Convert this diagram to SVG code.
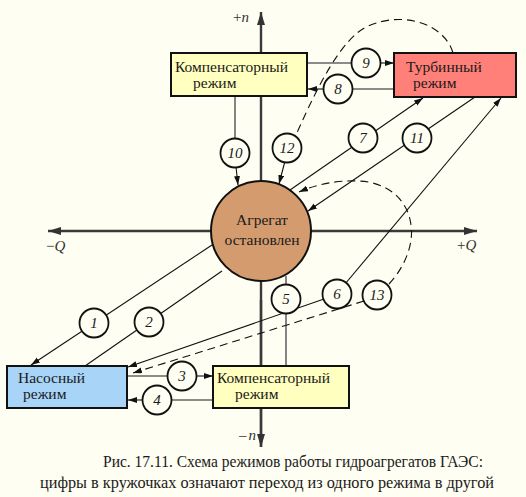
<svg xmlns="http://www.w3.org/2000/svg" width="526" height="497" viewBox="0 0 526 497">
<defs>
<marker id="ah" markerUnits="userSpaceOnUse" markerWidth="10" markerHeight="8" refX="9" refY="3" orient="auto">
<path d="M0,0 L9,3 L0,6 z" fill="#111"/>
</marker>
<marker id="axh" markerUnits="userSpaceOnUse" markerWidth="14" markerHeight="10" refX="13" refY="4" orient="auto">
<path d="M0,0 L13,4 L0,8 z" fill="#333"/>
</marker>
<style>
.ax{stroke:#3a3a3a;stroke-width:2.4;fill:none}
.c{stroke:#111;stroke-width:1.1;fill:none}
.g{stroke:#666;stroke-width:1.6;fill:none}
.d{stroke:#111;stroke-width:1.1;fill:none;stroke-dasharray:8 5}
.box{stroke:#111;stroke-width:2}
.t{font-family:"Liberation Serif","Times New Roman",serif;font-size:15.5px;fill:#1a1a1a}
.cap{font-family:"Liberation Serif","Times New Roman",serif;font-size:16px;fill:#1a1a1a}
.n{font-family:"Liberation Serif","Times New Roman",serif;font-size:15px;font-style:italic;fill:#1a1a1a;text-anchor:middle}
.lc{fill:#fefef2;stroke:#111;stroke-width:1.8}
.al{font-family:"Liberation Serif","Times New Roman",serif;font-size:15px;fill:#333}
</style>
</defs>
<rect width="526" height="497" fill="#fefef2"/>
<g id="axes">
<line class="ax" x1="261" y1="447" x2="261" y2="12" marker-end="url(#axh)"/>
<line class="ax" x1="261" y1="300" x2="261" y2="447" marker-end="url(#axh)"/>
<line class="ax" x1="261" y1="231" x2="477" y2="231" marker-end="url(#axh)"/>
<line class="ax" x1="261" y1="231" x2="48" y2="231" marker-end="url(#axh)"/>
<text class="al" x="233" y="22">+<tspan font-style="italic">n</tspan></text>
<text class="al" x="239" y="440" font-size="13">–<tspan font-style="italic" dx="2">n</tspan></text>
<text class="al" x="46" y="251">−<tspan font-style="italic">Q</tspan></text>
<text class="al" x="457" y="250">+<tspan font-style="italic">Q</tspan></text>
</g>
<g id="connectors">
<!-- 1 -->
<line class="c" x1="212" y1="245" x2="31" y2="365" marker-end="url(#ah)"/>
<!-- 2 -->
<line class="c" x1="85" y1="366" x2="222" y2="271"/>
<!-- 3 -->
<line class="g" x1="127" y1="376" x2="170" y2="376"/>
<line class="c" x1="196" y1="376" x2="213" y2="376" marker-end="url(#ah)"/>
<!-- 4 -->
<line class="g" x1="213" y1="400" x2="170" y2="400"/>
<line class="c" x1="143" y1="400" x2="128" y2="400" marker-end="url(#ah)"/>
<!-- 5 -->
<line class="g" x1="286" y1="276" x2="286" y2="366"/>
<!-- 6 -->
<line class="c" x1="340" y1="290" x2="501" y2="98" marker-end="url(#ah)"/>
<line class="c" x1="324" y1="299" x2="128" y2="367" marker-end="url(#ah)"/>
<!-- 7 -->
<line class="c" x1="290" y1="190" x2="423" y2="98" marker-end="url(#ah)"/>
<!-- 8 -->
<line class="g" x1="394" y1="89" x2="350" y2="89"/>
<line class="c" x1="324" y1="89" x2="308" y2="89" marker-end="url(#ah)"/>
<!-- 9 -->
<line class="g" x1="307" y1="63" x2="352" y2="63"/>
<line class="c" x1="380" y1="63" x2="394" y2="63" marker-end="url(#ah)"/>
<!-- 10 -->
<line class="g" x1="235" y1="96" x2="235" y2="140"/>
<line class="c" x1="236" y1="167" x2="238" y2="185" marker-end="url(#ah)"/>
<!-- 11 -->
<line class="c" x1="475" y1="97" x2="308" y2="211" marker-end="url(#ah)"/>
<!-- 12 -->
<path class="d" d="M453,53 C445,25 405,10 368,26 C342,38 318,85 296,135"/>
<line class="c" x1="285" y1="161" x2="279" y2="184" marker-end="url(#ah)"/>
<!-- 13 -->
<path class="d" d="M389,284 C404,268 414,245 411,225 C408,200 388,182 358,181 C335,180 315,185 299,192" marker-end="url(#ah)"/>
<line class="d" x1="364" y1="301" x2="133" y2="373" marker-end="url(#ah)"/>
</g>
<g id="labels">
<g id="l1"><circle class="lc" cx="94" cy="323" r="14.5"/><text class="n" x="94" y="328">1</text></g>
<g id="l2"><circle class="lc" cx="149" cy="322" r="14.5"/><text class="n" x="149" y="327">2</text></g>
<g id="l3"><circle class="lc" cx="182" cy="376" r="14.5"/><text class="n" x="182" y="381">3</text></g>
<g id="l4"><circle class="lc" cx="157" cy="400" r="14.5"/><text class="n" x="157" y="405">4</text></g>
<g id="l5"><circle class="lc" cx="286" cy="299" r="14.5"/><text class="n" x="286" y="304">5</text></g>
<g id="l6"><circle class="lc" cx="337" cy="294" r="14.5"/><text class="n" x="337" y="299">6</text></g>
<g id="l7"><circle class="lc" cx="363" cy="138" r="14.5"/><text class="n" x="363" y="143">7</text></g>
<g id="l8"><circle class="lc" cx="338" cy="89" r="14.5"/><text class="n" x="338" y="94">8</text></g>
<g id="l9"><circle class="lc" cx="366" cy="63" r="14.5"/><text class="n" x="366" y="68">9</text></g>
<g id="l10"><circle class="lc" cx="235" cy="153" r="14.5"/><text class="n" x="235" y="158">10</text></g>
<g id="l11"><circle class="lc" cx="417" cy="138" r="14.5"/><text class="n" x="417" y="143">11</text></g>
<g id="l12"><circle class="lc" cx="287" cy="148" r="14.5"/><text class="n" x="287" y="153">12</text></g>
<g id="l13"><circle class="lc" cx="377" cy="295" r="14.5"/><text class="n" x="377" y="300">13</text></g>
</g>
<g id="comp-top">
<rect class="box" x="171" y="53" width="136" height="43" fill="#ffffc0"/>
<text class="t" x="175" y="72">Компенсаторный</text>
<text class="t" x="193" y="88">режим</text>
</g>
<g id="turbine">
<rect class="box" x="394" y="53" width="122" height="44" fill="#ff8078"/>
<text class="t" x="406" y="72">Турбинный</text>
<text class="t" x="413" y="88">режим</text>
</g>
<g id="stopped">
<circle cx="261" cy="231" r="50" fill="#d49c6e" stroke="#111" stroke-width="2"/>
<text class="t" x="262" y="225" text-anchor="middle">Агрегат</text>
<text class="t" x="262" y="245" text-anchor="middle">остановлен</text>
</g>
<g id="pump">
<rect class="box" x="7" y="366" width="120" height="42" fill="#a8d4f8"/>
<text class="t" x="18" y="383">Насосный</text>
<text class="t" x="23" y="399">режим</text>
</g>
<g id="comp-bottom">
<rect class="box" x="213" y="366" width="136" height="42" fill="#ffffc0"/>
<text class="t" x="217" y="383">Компенсаторный</text>
<text class="t" x="235" y="399">режим</text>
</g>
<g id="caption">
<text class="cap" x="103" y="467" textLength="380" lengthAdjust="spacingAndGlyphs">Рис. 17.11. Схема режимов работы гидроагрегатов ГАЭС:</text>
<text class="cap" x="40" y="488" textLength="454" lengthAdjust="spacingAndGlyphs">цифры в кружочках означают переход из одного режима в другой</text>
</g>
</svg>
